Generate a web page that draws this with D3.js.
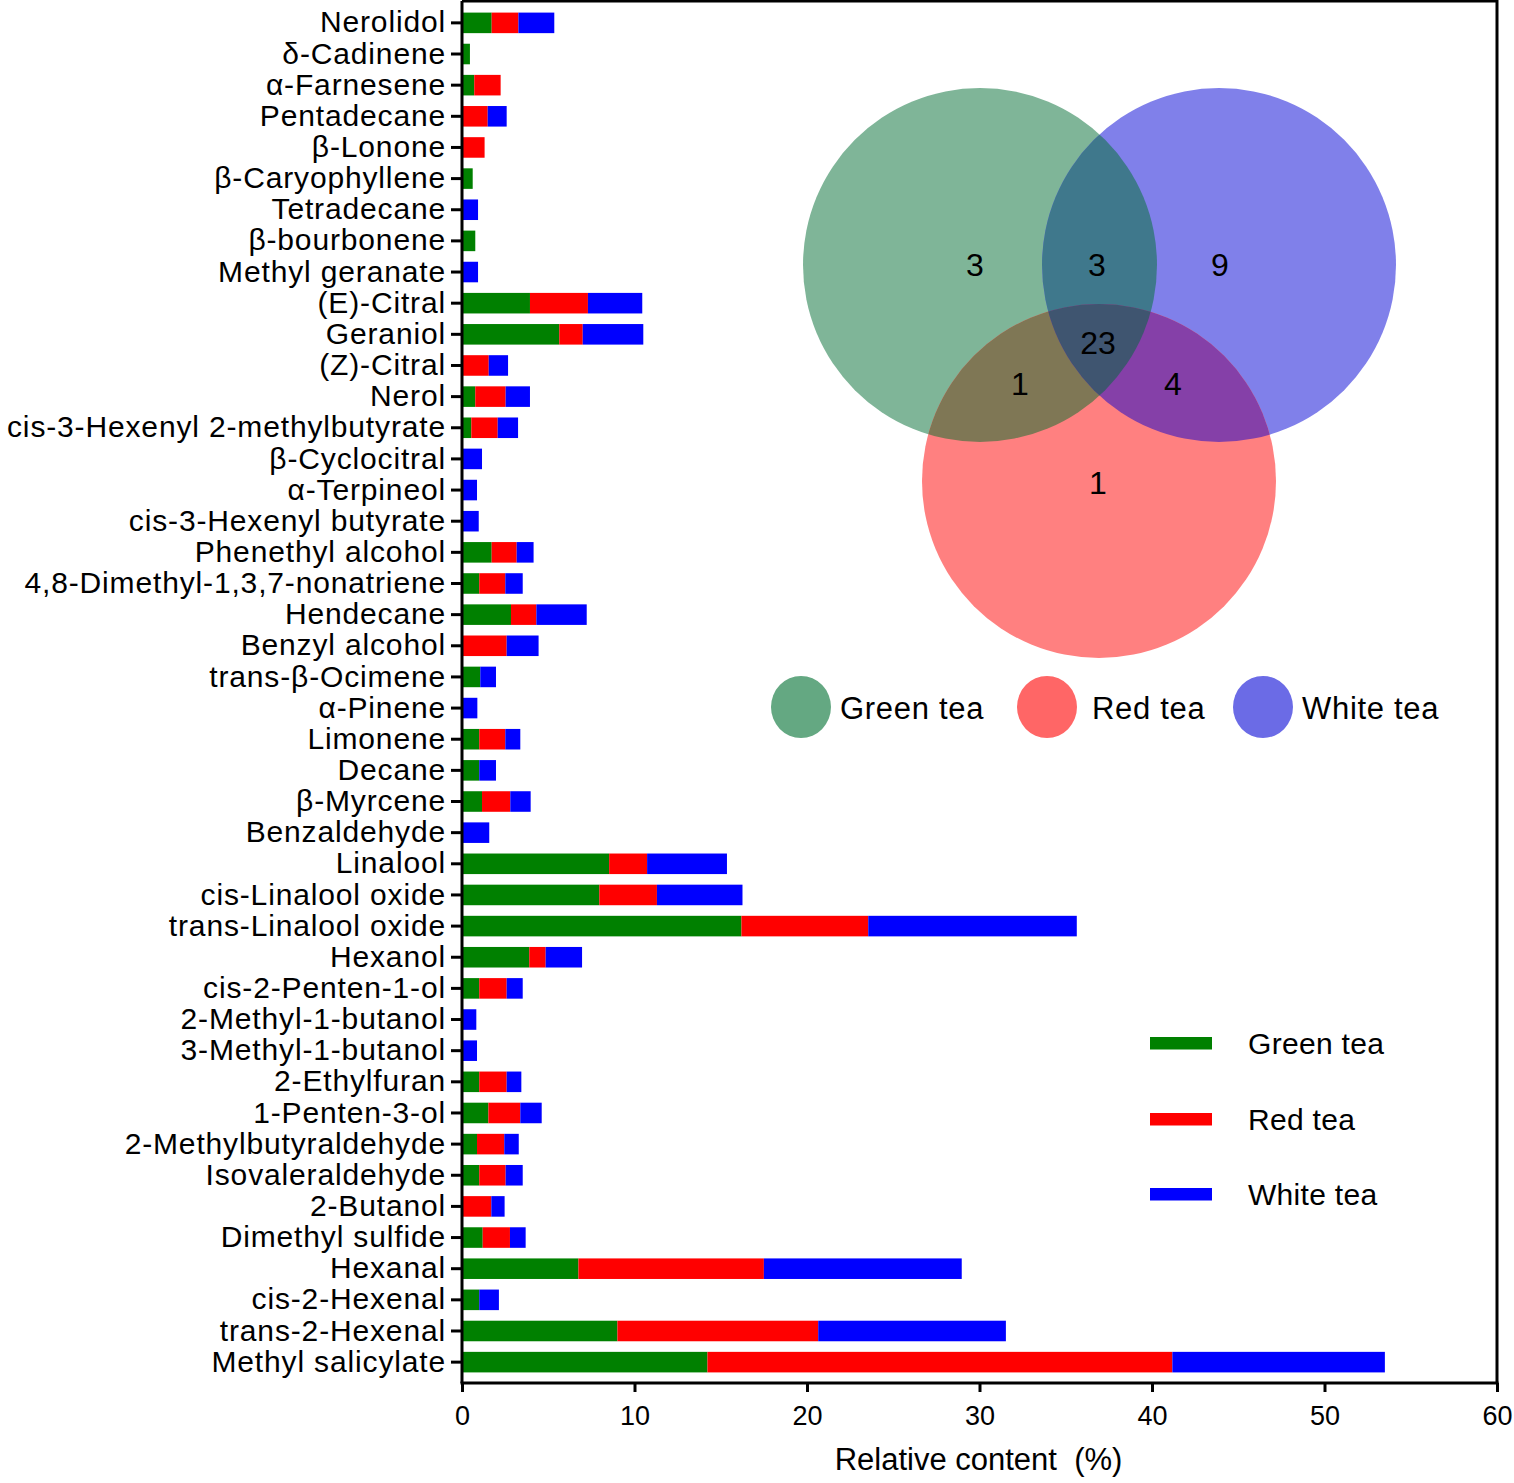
<!DOCTYPE html>
<html>
<head>
<meta charset="utf-8">
<script src="https://cdn.jsdelivr.net/npm/d3@7"></script>
<style>
  body { margin: 0; background: #fff; }
  svg { font-family: "Liberation Sans", Arial, sans-serif; }
</style>
</head>
<body>
<div class="chart"></div>
<script>
// compounds, top to bottom
const compounds = ["Nerolidol","δ-Cadinene","α-Farnesene","Pentadecane","β-Lonone","β-Caryophyllene",
  "Tetradecane","β-bourbonene","Methyl geranate","(E)-Citral","Geraniol","(Z)-Citral","Nerol",
  "cis-3-Hexenyl 2-methylbutyrate","β-Cyclocitral","α-Terpineol","cis-3-Hexenyl butyrate",
  "Phenethyl alcohol","4,8-Dimethyl-1,3,7-nonatriene","Hendecane","Benzyl alcohol","trans-β-Ocimene",
  "α-Pinene","Limonene","Decane","β-Myrcene","Benzaldehyde","Linalool","cis-Linalool oxide",
  "trans-Linalool oxide","Hexanol","cis-2-Penten-1-ol","2-Methyl-1-butanol","3-Methyl-1-butanol",
  "2-Ethylfuran","1-Penten-3-ol","2-Methylbutyraldehyde","Isovaleraldehyde","2-Butanol",
  "Dimethyl sulfide","Hexanal","cis-2-Hexenal","trans-2-Hexenal","Methyl salicylate"]

const greenTea = [1.72,0.46,0.71,0,0,0.62,0,0.77,0,3.94,5.64,0,0.77,0.54,0,0,0,1.72,1.00,2.84,0,1.06,
  0,1.00,1.00,1.16,0,8.53,7.96,16.20,3.90,1.00,0,0,1.00,1.53,0.87,1.00,0,1.20,6.75,1.00,9.01,14.23]
const redTea = [1.55,0,1.53,1.49,1.31,0,0,0,0,3.36,1.36,1.55,1.76,1.53,0,0,0,1.45,1.51,1.47,2.59,0,
  0,1.51,0,1.64,0,2.20,3.34,7.35,0.95,1.59,0,0,1.59,1.85,1.58,1.53,1.70,1.58,10.75,0,11.64,26.95]
const whiteTea = [2.08,0,0,1.10,0,0,0.93,0,0.93,3.15,3.51,1.12,1.41,1.18,1.16,0.87,0.97,0.98,1.01,2.92,
  1.85,0.91,0.89,0.87,0.97,1.18,1.58,4.63,4.96,12.09,2.11,0.93,0.83,0.87,0.85,1.24,0.84,0.99,0.77,0.91,
  11.47,1.14,10.88,12.32]

const series = ["Green tea","Red tea","White tea"]
const xTicks = [0,10,20,30,40,50,60]

// venn counts: green only, green&white, white only, all three, green&red, red&white, red only
const vennLabels = ["G","GW","W","GRW","GR","RW","R"]
const vennCounts = [3,3,9,23,1,4,1]

const table = compounds.map((c,i)=>({name:c,"Green tea":greenTea[i],"Red tea":redTea[i],"White tea":whiteTea[i]}))

const width=1514, height=1483
const plotLeft=462, plotRight=1497, plotTop=2, plotBottom=1383

const svg=d3.select('.chart').append('svg')
  .attr('width',width)
  .attr('height',height)

const x=d3.scaleLinear().domain([0,60]).range([plotLeft,plotRight])
const y=d3.scaleBand().domain(compounds).range([plotTop,plotBottom]).paddingInner(0.34).paddingOuter(0.34)
const barColor=d3.scaleOrdinal().domain(series).range(['#008000','#ff0000','#0000ff'])

const stacked=d3.stack().keys(series)(table)

svg.append('g')
  .selectAll('g')
  .data(stacked)
  .join('g')
  .attr('fill',d=>barColor(d.key))
  .selectAll('rect')
  .data(d=>d)
  .join('rect')
  .attr('x',d=>x(d[0]))
  .attr('y',d=>y(d.data.name))
  .attr('width',d=>x(d[1])-x(d[0]))
  .attr('height',y.bandwidth())

// frame
svg.append('path')
  .attr('d',`M${plotLeft},${plotTop-1}H${plotRight}V${plotBottom}`)
  .attr('fill','none')
  .attr('stroke','#000')
  .attr('stroke-width',3)

const yAxis=d3.axisLeft(y).tickSize(11).tickPadding(5)
svg.append('g')
  .attr('transform',`translate(${plotLeft},0)`)
  .call(yAxis)
  .call(g=>g.selectAll('line').attr('stroke-width',3))
  .call(g=>g.select('.domain').attr('stroke-width',3).attr('d',`M0,${plotTop-1}V${plotBottom}`))
  .call(g=>g.selectAll('text').attr('font-size',30).attr('letter-spacing','0.85px')
    .attr('fill','#000').attr('font-family','Liberation Sans, Arial'))

const xAxis=d3.axisBottom(x).tickValues(xTicks).tickSize(9).tickPadding(14)
svg.append('g')
  .attr('transform',`translate(0,${plotBottom})`)
  .call(xAxis)
  .call(g=>g.selectAll('line').attr('stroke-width',3))
  .call(g=>g.select('.domain').attr('stroke-width',3).attr('d',`M${plotLeft-1.5},0H${plotRight+1.5}`))
  .call(g=>g.selectAll('text').attr('font-size',27).attr('fill','#000').attr('font-family','Liberation Sans, Arial'))

svg.append('text')
  .attr('x',(plotLeft+plotRight)/2 - 1)
  .attr('y',1470)
  .attr('text-anchor','middle')
  .attr('font-size',31)
  .style('white-space','pre')
  .text('Relative content  (%)')

// bar legend
const barLegend=svg.append('g')
series.forEach((s,i)=>{
  const ly=[1043,1119,1194][i]
  barLegend.append('rect')
    .attr('x',1150).attr('y',ly-6).attr('width',62).attr('height',12.5)
    .attr('fill',barColor(s))
  barLegend.append('text')
    .attr('x',1248).attr('y',ly+11)
    .attr('font-size',30)
    .attr('letter-spacing','0.3px')
    .text(s)
})

// venn diagram
const R=177
const circ={G:[980,265],W:[1219,265],R:[1099,481]}
const vennFill={G:'#7fb598',W:'#8080ea',R:'#ff8080'}
const defs=svg.append('defs')
Object.keys(circ).forEach(k=>{
  defs.append('clipPath').attr('id','clip'+k)
    .append('circle').attr('cx',circ[k][0]).attr('cy',circ[k][1]).attr('r',R)
})
const venn=svg.append('g')
Object.keys(circ).forEach(k=>{
  venn.append('circle').attr('cx',circ[k][0]).attr('cy',circ[k][1]).attr('r',R).attr('fill',vennFill[k])
})
function overlap(a,b,color){
  venn.append('g').attr('clip-path',`url(#clip${b})`)
    .append('circle').attr('cx',circ[a][0]).attr('cy',circ[a][1]).attr('r',R).attr('fill',color)
}
overlap('G','W','#3f788c')
overlap('G','R','#7f7755')
overlap('W','R','#8540a8')
venn.append('g').attr('clip-path','url(#clipW)')
  .append('g').attr('clip-path','url(#clipR)')
  .append('circle').attr('cx',circ.G[0]).attr('cy',circ.G[1]).attr('r',R).attr('fill','#3f5570')

const vennPos={G:[975,265],GW:[1097,265],W:[1220,265],GRW:[1098,343],GR:[1020,384],RW:[1173,384],R:[1098,483]}
venn.selectAll('text.count')
  .data(vennLabels)
  .join('text')
  .attr('class','count')
  .attr('x',d=>vennPos[d][0])
  .attr('y',d=>vennPos[d][1]+11)
  .attr('text-anchor','middle')
  .attr('font-size',32)
  .text((d,i)=>vennCounts[i])

// venn legend
const circLegend=[[801,'#64a882',840],[1047,'#ff6666',1092],[1263,'#6b6be6',1302]]
series.forEach((s,i)=>{
  svg.append('ellipse')
    .attr('cx',circLegend[i][0]).attr('cy',707).attr('rx',30).attr('ry',31)
    .attr('fill',circLegend[i][1])
  svg.append('text')
    .attr('x',circLegend[i][2]).attr('y',719)
    .attr('font-size',31)
    .attr('letter-spacing','0.7px')
    .text(s)
})
</script>
</body>
</html>
